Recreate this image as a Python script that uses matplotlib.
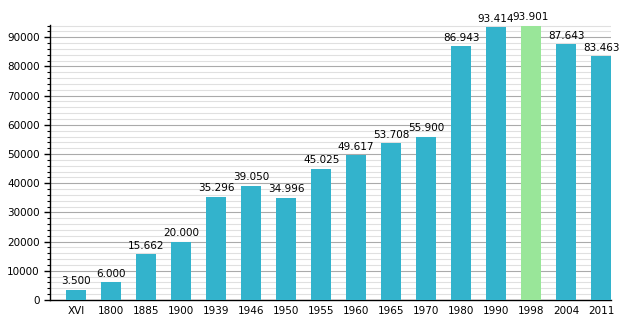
import matplotlib.pyplot as plt
import numpy as np

years = ["XVI", "1800", "1885", "1900", "1939", "1946", "1950", "1955",
         "1960", "1965", "1970", "1980", "1990", "1998", "2004", "2011"]
population = [3500, 6000, 15662, 20000, 35296, 39050, 34996, 45025,
              49617, 53708, 55900, 86943, 93414, 93901, 87643, 83463]
highlight = "1998"

blue = "#33b3cc"
green = "#99e699"

fig = plt.figure(figsize=(6.3, 3.3), dpi=100)
ax = fig.add_axes([50 / 630, 30 / 330, 561 / 630, 275 / 330])

x = np.arange(len(years))
colors = [green if y == highlight else blue for y in years]
ax.bar(x, population, width=0.57, color=colors, zorder=3)

for xi, v in zip(x, population):
    label = f"{v:,}".replace(",", ".")
    ax.text(xi, v + 1200, label, ha="center", va="bottom", fontsize=7.5, zorder=4)

ax.set_xlim(-0.75, len(years) - 1 + 0.285)
ax.set_ylim(0, 94200)
ax.set_xticks(x)
ax.set_xticklabels(years, fontsize=7.5)
ax.set_yticks(np.arange(0, 90001, 10000))
ax.set_yticks(np.arange(0, 94001, 2000), minor=True)
ax.tick_params(axis="y", labelsize=7.5, length=4, width=1)
ax.tick_params(axis="y", which="minor", length=2, width=0.8)
ax.tick_params(axis="x", length=0, pad=4)

ax.grid(axis="y", which="major", color="#aaaaaa", linewidth=0.8, zorder=0)
ax.grid(axis="y", which="minor", color="#e0e0e0", linewidth=0.8, zorder=0)

for side in ["top", "right"]:
    ax.spines[side].set_visible(False)
ax.spines["left"].set_linewidth(1)
ax.spines["bottom"].set_linewidth(1)

fig.savefig("out.png", dpi=100)
